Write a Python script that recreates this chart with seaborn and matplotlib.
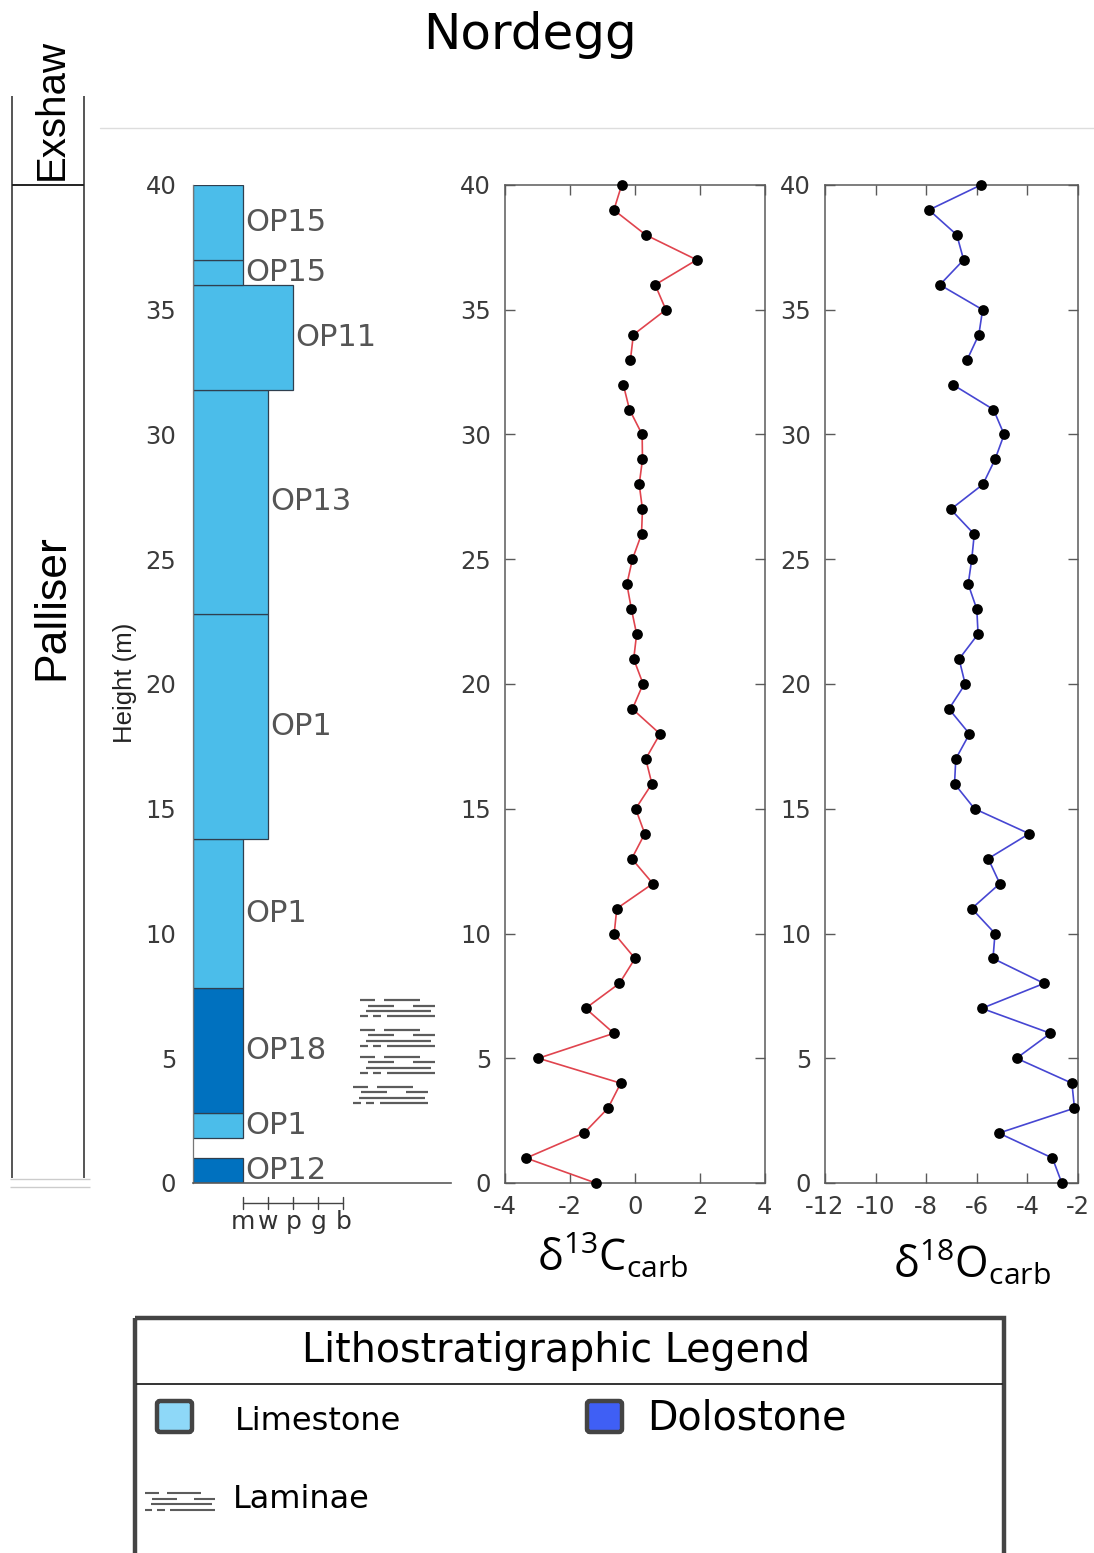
import numpy as np
import pandas as pd
import matplotlib
matplotlib.use("Agg")
import matplotlib.pyplot as plt
from matplotlib.patches import Rectangle, FancyBboxPatch
import seaborn as sns

# ---------------------------------------------------------------- data
heights = list(range(0, 41))
d13c = [-1.21, -3.35, -1.57, -0.83, -0.44, -2.97, -0.65, -1.52, -0.48, 0.00,
        -0.64, -0.56, 0.55, -0.10, 0.30, 0.02, 0.52, 0.33, 0.77, -0.08,
        0.25, -0.04, 0.05, -0.11, -0.25, -0.08, 0.20, 0.23, 0.13, 0.23,
        0.22, -0.17, -0.36, -0.14, -0.05, 0.95, 0.62, 1.90, 0.33, -0.65, -0.41]
d18o = [-2.64, -3.01, -5.13, -2.14, -2.24, -4.43, -3.09, -5.80, -3.34, -5.36,
        -5.28, -6.20, -5.09, -5.55, -3.93, -6.09, -6.88, -6.83, -6.29, -7.10,
        -6.46, -6.70, -5.95, -6.00, -6.34, -6.20, -6.10, -7.03, -5.76, -5.28,
        -4.92, -5.34, -6.95, -6.38, -5.92, -5.77, -7.46, -6.52, -6.79, -7.89, -5.84]
sampling_break = 32.5          # no samples between 32 m and 33 m

bed_names = ["OP12", "OP1", "OP18", "OP1", "OP1", "OP13", "OP11", "OP15", "OP15"]
bed_base = [0.0, 1.8, 2.8, 7.8, 13.8, 22.8, 31.8, 36.0, 37.0]
bed_top = [1.0, 2.8, 7.8, 13.8, 22.8, 31.8, 36.0, 37.0, 40.0]
bed_texture = ["m", "m", "m", "m", "w", "w", "p", "m", "m"]
bed_litho = ["Dolostone", "Limestone", "Dolostone", "Limestone", "Limestone",
             "Limestone", "Limestone", "Limestone", "Limestone"]

grain_labels = ["m", "w", "p", "g", "b"]
grain_pos = [2, 3, 4, 5, 6]

laminae_base = [6.68, 5.48, 4.40, 3.20]
laminae_top = [7.33, 6.13, 5.05, 3.85]
laminae_x = [(6.67, 9.66), (6.67, 9.66), (6.67, 9.66), (6.40, 9.40)]

formation_names = ["Palliser", "Exshaw"]
formation_base = [0.0, 40.0]
formation_top = [40.0, 43.57]
formation_label_y = [23.1, 43.05]

height_ticks = [0, 5, 10, 15, 20, 25, 30, 35, 40]
c_ticks = [-4, -2, 0, 2, 4]
o_ticks = [-12, -10, -8, -6, -4, -2]

# ---------------------------------------------------------------- style
sns.set_theme(style="white")
plt.rcParams["font.family"] = ["DejaVu Sans"]
plt.rcParams["axes.unicode_minus"] = False
plt.rcParams["mathtext.fontset"] = "custom"
plt.rcParams["mathtext.rm"] = "Open Sans"
plt.rcParams["mathtext.it"] = "Open Sans:italic"

litho_fill = {"Limestone": "#4BBDEA", "Dolostone": "#0071BF"}
legend_fill = {"Limestone": "#8ED8F8", "Dolostone": "#3F5FF5"}
TICK_C = "#3a3a3a"
SPINE_C = "#5a5a5a"

W, H = 1094, 1553
fig = plt.figure(figsize=(W / 100, H / 100), dpi=100)
fig.patch.set_facecolor("white")


def px_axes(x0, y0, x1, y1, **kw):
    """Axes placed with pixel coordinates measured from the top-left corner."""
    return fig.add_axes([x0 / W, 1 - y1 / H, (x1 - x0) / W, (y1 - y0) / H], **kw)


# overlay for frames, titles and legend
deco = px_axes(0, 0, W, H, zorder=0)
deco.set_xlim(0, W)
deco.set_ylim(H, 0)
deco.axis("off")

# ---------------------------------------------------------------- lithology column
grain_map = dict(zip(grain_labels, grain_pos))
ax_l = px_axes(193, 185, 451, 1183)
ax_l.set_xlim(0, 10.3)
ax_l.set_ylim(0, 40)
widths = [grain_map[t] for t in bed_texture]
thick = [t - b for b, t in zip(bed_base, bed_top)]
ax_l.barh(bed_base, widths, height=thick, left=0, align="edge",
          color=[litho_fill[l] for l in bed_litho],
          edgecolor="#2f3f4f", linewidth=0.9, zorder=2)
for name, b, t, w in zip(bed_names, bed_base, bed_top, widths):
    ax_l.text(w + 0.1, (b + t) / 2, name, ha="left", va="center",
              fontsize=22, color="#555555", zorder=3)

# laminae symbols
lam_rows = [
    [(0.00, 0.20), (0.32, 0.80)],
    [(0.10, 0.45), (0.70, 1.00)],
    [(0.08, 0.95)],
    [(0.00, 0.10), (0.17, 0.28), (0.36, 1.00)],
]


def draw_laminae(axis, x0, x1, y_lo, y_hi, lw=1.6, transform=None):
    tr = transform if transform is not None else axis.transData
    for i, segs in enumerate(lam_rows):
        yy = y_hi - (y_hi - y_lo) * i / (len(lam_rows) - 1)
        for a, b in segs:
            axis.plot([x0 + (x1 - x0) * a, x0 + (x1 - x0) * b], [yy, yy],
                      color="#5c5c5c", lw=lw, solid_capstyle="butt",
                      transform=tr, clip_on=False)


for lb, lt, (lx0, lx1) in zip(laminae_base, laminae_top, laminae_x):
    draw_laminae(ax_l, lx0, lx1, lb, lt)

ax_l.set_yticks(height_ticks)
ax_l.set_xticks([])
ax_l.tick_params(axis="y", length=0, pad=12, labelsize=17.5, labelcolor=TICK_C)
for s in ["top", "right"]:
    ax_l.spines[s].set_visible(False)
ax_l.spines["left"].set_color("#777777")
ax_l.spines["left"].set_linewidth(0.9)
ax_l.spines["bottom"].set_color(SPINE_C)
ax_l.spines["bottom"].set_linewidth(1.2)
ax_l.set_facecolor("white")

# grain-size scale under the column
xt = ax_l.get_xaxis_transform()
ax_l.plot([grain_pos[0], grain_pos[-1]], [-0.02, -0.02], color="#444444",
          lw=1.0, transform=xt, clip_on=False)
for gp, gl in zip(grain_pos, grain_labels):
    ax_l.plot([gp, gp], [-0.026, -0.014], color="#444444", lw=1.0,
              transform=xt, clip_on=False)
    ax_l.text(gp, -0.027, gl, ha="center", va="top", fontsize=18,
              color="#333333", transform=xt)

# ---------------------------------------------------------------- isotope panels
iso = pd.DataFrame({"height": heights, "d13C": d13c, "d18O": d18o})
iso["segment"] = (iso["height"] > sampling_break).astype(int)


def iso_panel(x0, x1, col, color, xlim, xticks):
    ax = px_axes(x0, 185, x1, 1183)
    sns.lineplot(data=iso, x=col, y="height", units="segment", estimator=None,
                 sort=False, color=color, lw=1.2, ax=ax, zorder=2)
    sns.scatterplot(data=iso, x=col, y="height", color="black", s=60,
                    edgecolor="black", linewidth=0, ax=ax, zorder=3,
                    clip_on=False)
    ax.set_xlim(*xlim)
    ax.set_ylim(0, 40)
    ax.set_xticks(xticks)
    ax.set_yticks(height_ticks)
    ax.set_xlabel("")
    ax.set_ylabel("")
    ax.tick_params(direction="in", length=7, width=1.0, color=SPINE_C,
                   labelsize=17.5, labelcolor=TICK_C, top=True, right=True,
                   bottom=True, left=True)
    ax.tick_params(axis="x", pad=9)
    ax.tick_params(axis="y", pad=10)
    for s in ax.spines.values():
        s.set_color(SPINE_C)
        s.set_linewidth(1.1)
    return ax


ax_c = iso_panel(505, 765, "d13C", "#E0444E", (-4, 4), c_ticks)
ax_o = iso_panel(825, 1078, "d18O", "#4646D2", (-12, -2), o_ticks)

fig.text(613 / W, 1 - 1255 / H, r"$\mathrm{\delta^{13}C_{carb}}$",
         ha="center", va="center", fontsize=31, color="black")
fig.text(972 / W, 1 - 1262 / H, r"$\mathrm{\delta^{18}O_{carb}}$",
         ha="center", va="center", fontsize=31, color="black")

# ---------------------------------------------------------------- formation column
ax_f = px_axes(10, 96, 86, 1183, zorder=1)
ax_f.set_xlim(0, 1)
ax_f.set_ylim(0, formation_top[-1])
ax_f.axis("off")
ax_f.vlines([0.02, 0.98], 0.2, formation_top[-1], color="#555555", lw=1.4)
ax_f.hlines(formation_top[0], 0.02, 0.98, color="#222222", lw=1.4)
ax_f.hlines([0.15, -0.15], 0.0, 1.05, color="#cccccc", lw=1.0, clip_on=False)
for name, yc in zip(formation_names, formation_label_y):
    size = 32 if name == "Palliser" else 29
    ax_f.text(0.55, yc, name, rotation=90, ha="center", va="center",
              fontsize=size, family=["Liberation Sans"], color="black",
              clip_on=False)

fig.text(125 / W, 1 - 683 / H, "Height (m)", rotation=90, ha="center",
         va="center", fontsize=18.5, family=["Liberation Sans"], color="#222222")

# ---------------------------------------------------------------- title & rule
fig.text(530 / W, 1 - 35 / H, "Nordegg", ha="center", va="center",
         fontsize=36, color="black")
deco.plot([100, 1094], [128, 128], color="#dddddd", lw=1.0)

# ---------------------------------------------------------------- legend
deco.add_patch(Rectangle((135, 1318), 869, 250, fill=False,
                         edgecolor="#444444", lw=3.2, clip_on=False))
deco.plot([137, 1002], [1384, 1384], color="#111111", lw=1.2)
deco.text(556, 1351, "Lithostratigraphic Legend", ha="center", va="center",
          fontsize=28.5, color="black")
for litho, sx, tx, ty, fs in [("Limestone", 157, 235, 1422, 23),
                              ("Dolostone", 587, 647, 1419, 28.5)]:
    deco.add_patch(FancyBboxPatch((sx, 1401), 35, 31,
                                  boxstyle="round,pad=0,rounding_size=3",
                                  facecolor=legend_fill[litho],
                                  edgecolor="#444444", lw=3.2))
    deco.text(tx, ty, litho, ha="left", va="center", fontsize=fs,
              color="black")
draw_laminae(deco, 145, 215, 1510, 1493, lw=1.5)
deco.text(233, 1499, "Laminae", ha="left", va="center", fontsize=23,
          color="black")

fig.savefig("out.png", dpi=100, facecolor="white")
